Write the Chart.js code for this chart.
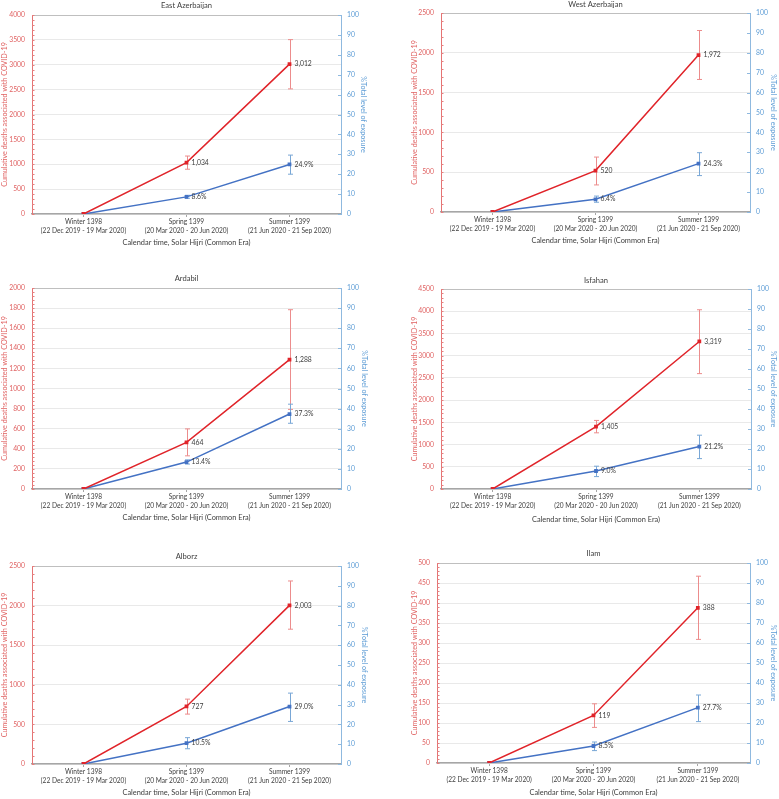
<!DOCTYPE html>
<html lang="en">
<head>
<meta charset="UTF-8">
<title>Cumulative COVID-19 deaths and exposure by province</title>
<script src="https://cdn.jsdelivr.net/npm/chart.js@4.4.1/dist/chart.umd.min.js"></script>
<style>
    body { margin: 0; background: #fff; }
    #charts { position: relative; width: 779px; height: 799px; }
    #charts canvas { position: absolute; }
</style>
</head>
<body>
<div id="charts"></div>
<script>
// values
const periods = [
    ['Winter 1398', '(22 Dec 2019 - 19 Mar 2020)'],
    ['Spring 1399', '(20 Mar 2020 - 20 Jun 2020)'],
    ['Summer 1399', '(21 Jun 2020 - 21 Sep 2020)']
];
const provinces = ['East Azerbaijan', 'West Azerbaijan', 'Ardabil', 'Isfahan', 'Alborz', 'Ilam'];

const deaths = [
    [0, 1034, 3012], [0, 520, 1972], [0, 464, 1288],
    [0, 1405, 3319], [0, 727, 2003], [0, 119, 388]
];
const deathsLow = [
    [null, 900, 2515], [null, 340, 1665], [null, 330, 792],
    [null, 1264, 2596], [null, 630, 1702], [null, 89, 309]
];
const deathsHigh = [
    [null, 1165, 3505], [null, 690, 2280], [null, 598, 1784],
    [null, 1543, 4033], [null, 819, 2311], [null, 148, 467]
];

const exposure = [
    [0, 8.6, 24.9], [0, 6.4, 24.3], [0, 13.4, 37.3],
    [0, 9.0, 21.2], [0, 10.5, 29.0], [0, 8.5, 27.7]
];
const exposureLow = [
    [null, 7.9, 20.0], [null, 4.9, 18.3], [null, 12.4, 32.7],
    [null, 6.2, 15.2], [null, 7.7, 21.5], [null, 6.2, 20.7]
];
const exposureHigh = [
    [null, 9.4, 29.6], [null, 8.0, 29.8], [null, 14.5, 42.2],
    [null, 11.4, 26.9], [null, 13.3, 35.8], [null, 10.5, 34.0]
];

const deathsAxisMax = [4000, 2500, 2000, 4500, 2500, 500];
const deathsAxisStep = [500, 500, 200, 500, 500, 50];
const exposureAxisMax = 100;
const exposureAxisStep = 10;

// where each panel sits on the page
const panels = [
    { x: 0,   y: 0,   w: 390, h: 265, l: 32, r: 341, t: 15, b: 214, titleY: 6,  leftTitleX: 5,  rightTitleX: 363, xTitleY: 243 },
    { x: 390, y: 0,   w: 389, h: 265, l: 51, r: 360, t: 13, b: 212, titleY: 5,  leftTitleX: 25, rightTitleX: 383, xTitleY: 241 },
    { x: 0,   y: 265, w: 390, h: 265, l: 32, r: 341, t: 23, b: 224, titleY: 14, leftTitleX: 5,  rightTitleX: 364, xTitleY: 253 },
    { x: 390, y: 265, w: 389, h: 265, l: 51, r: 361, t: 24, b: 224, titleY: 16, leftTitleX: 25, rightTitleX: 383, xTitleY: 255 },
    { x: 0,   y: 530, w: 390, h: 269, l: 32, r: 341, t: 36, b: 234, titleY: 27, leftTitleX: 5,  rightTitleX: 364, xTitleY: 263 },
    { x: 390, y: 530, w: 389, h: 269, l: 47, r: 360, t: 33, b: 233, titleY: 24, leftTitleX: 25, rightTitleX: 383, xTitleY: 263 }
];

const FONT = 'Lato, "Open Sans", sans-serif';
const RED = '#e0242a';
const BLUE = '#4472c4';
const RED_TEXT = '#e06262';
const BLUE_TEXT = '#5b9bd5';
const TEXT = '#404040';

// error bars, value labels, plot border and the inside tick marks
const extras = {
    id: 'extras',
    beforeDatasetsDraw(chart) {
        const ctx = chart.ctx;
        const area = chart.chartArea;
        ctx.save();
        ctx.strokeStyle = '#bfbfbf';
        ctx.lineWidth = 1;
        ctx.beginPath();
        ctx.moveTo(area.left, area.top + 0.5);
        ctx.lineTo(area.right, area.top + 0.5);
        ctx.stroke();

        chart.data.datasets.forEach((ds, i) => {
            const meta = chart.getDatasetMeta(i);
            const scale = chart.scales[ds.yAxisID];
            ctx.strokeStyle = ds.errorColor;
            ctx.lineWidth = 1;
            meta.data.forEach((pt, j) => {
                if (ds.low[j] == null) return;
                const y1 = scale.getPixelForValue(ds.low[j]);
                const y2 = scale.getPixelForValue(ds.high[j]);
                const x = Math.round(pt.x) + 0.5;
                ctx.beginPath();
                ctx.moveTo(x, y1); ctx.lineTo(x, y2);
                ctx.moveTo(x - 2.5, y1); ctx.lineTo(x + 2.5, y1);
                ctx.moveTo(x - 2.5, y2); ctx.lineTo(x + 2.5, y2);
                ctx.stroke();
            });
        });
        ctx.restore();
    },
    afterDatasetsDraw(chart) {
        const ctx = chart.ctx;
        ctx.save();
        ctx.font = '6.8px ' + FONT;
        ctx.fillStyle = TEXT;
        ctx.textBaseline = 'middle';
        chart.data.datasets.forEach((ds, i) => {
            const meta = chart.getDatasetMeta(i);
            meta.data.forEach((pt, j) => {
                if (!ds.data[j]) return;
                ctx.fillText(ds.fmt(ds.data[j]), pt.x + 5, pt.y);
            });
        });
        ctx.restore();
    },
    afterDraw(chart) {
        const ctx = chart.ctx;
        const area = chart.chartArea;
        const left = chart.scales.y;
        const right = chart.scales.y1;
        const step = left.options.ticks.stepSize;
        ctx.save();
        ctx.lineWidth = 1;
        ctx.strokeStyle = '#e57f7f';
        for (let v = 0; v <= left.max + 1e-6; v += step / 5) {
            const y = Math.round(left.getPixelForValue(v)) + 0.5;
            ctx.beginPath();
            ctx.moveTo(area.left, y);
            ctx.lineTo(area.left + 2.5, y);
            ctx.stroke();
        }
        ctx.strokeStyle = '#8fb9df';
        for (let v = 0; v <= right.max; v += exposureAxisStep) {
            const y = Math.round(right.getPixelForValue(v)) + 0.5;
            ctx.beginPath();
            ctx.moveTo(area.right - 3, y);
            ctx.lineTo(area.right, y);
            ctx.stroke();
        }
        ctx.restore();
    }
};

function makePanel(k) {
    const p = panels[k];
    const canvas = document.createElement('canvas');
    canvas.width = p.w;
    canvas.height = p.h;
    canvas.style.left = p.x + 'px';
    canvas.style.top = p.y + 'px';
    document.getElementById('charts').appendChild(canvas);

    const titleLh = 7.6 * 1.2;
    const axisLh = 7.2 * 1.2;

    new Chart(canvas, {
        type: 'line',
        data: {
            labels: periods,
            datasets: [
                {
                    label: 'Cumulative deaths',
                    data: deaths[k],
                    low: deathsLow[k],
                    high: deathsHigh[k],
                    errorColor: '#ec8c8c',
                    fmt: v => v.toLocaleString('en-US'),
                    yAxisID: 'y',
                    borderColor: RED,
                    backgroundColor: RED,
                    borderWidth: 1.5,
                    pointStyle: 'rect',
                    pointRadius: 1.6,
                    tension: 0
                },
                {
                    label: '%Total level of exposure',
                    data: exposure[k],
                    low: exposureLow[k],
                    high: exposureHigh[k],
                    errorColor: '#79a7d6',
                    fmt: v => v.toFixed(1) + '%',
                    yAxisID: 'y1',
                    borderColor: BLUE,
                    backgroundColor: BLUE,
                    borderWidth: 1.5,
                    pointStyle: 'rect',
                    pointRadius: 1.6,
                    tension: 0
                }
            ]
        },
        options: {
            responsive: false,
            animation: false,
            devicePixelRatio: 1,
            layout: { padding: 0 },
            plugins: {
                legend: { display: false },
                tooltip: { enabled: false },
                title: {
                    display: true,
                    text: provinces[k],
                    fullSize: false,
                    color: TEXT,
                    font: { family: FONT, size: 7.6, weight: 'normal', lineHeight: 1.2 },
                    padding: { top: p.titleY - titleLh / 2, bottom: p.t - (p.titleY - titleLh / 2) - titleLh }
                }
            },
            scales: {
                x: {
                    offset: true,
                    grid: { drawOnChartArea: false, offset: false, tickLength: 3, color: '#a6a6a6' },
                    border: { color: '#a6a6a6', width: 1.5 },
                    ticks: {
                        color: TEXT,
                        padding: 1,
                        maxRotation: 0,
                        autoSkip: false,
                        font: { family: FONT, size: 6.6, lineHeight: 1.27 }
                    },
                    title: {
                        display: true,
                        text: 'Calendar time, Solar Hijri (Common Era)',
                        color: TEXT,
                        font: { family: FONT, size: 7.4, lineHeight: 1.2 },
                        padding: { top: 0, bottom: p.h - p.xTitleY - axisLh / 2 }
                    },
                    afterFit: s => { s.height = p.h - p.b; }
                },
                y: {
                    position: 'left',
                    min: 0,
                    max: deathsAxisMax[k],
                    grid: { color: '#e9e9e9', drawTicks: false },
                    border: { color: '#e57373', width: 1 },
                    ticks: {
                        stepSize: deathsAxisStep[k],
                        color: RED_TEXT,
                        padding: 7,
                        font: { family: FONT, size: 6.8 },
                        callback: v => String(v)
                    },
                    title: {
                        display: true,
                        text: 'Cumulative deaths associated with COVID-19',
                        color: RED_TEXT,
                        font: { family: FONT, size: 7.2, lineHeight: 1.2 },
                        padding: { top: p.leftTitleX - axisLh / 2, bottom: 0 }
                    },
                    afterFit: s => { s.width = p.l; }
                },
                y1: {
                    position: 'right',
                    min: 0,
                    max: exposureAxisMax,
                    grid: { drawOnChartArea: false, drawTicks: false },
                    border: { color: '#8fb9df', width: 1 },
                    ticks: {
                        stepSize: exposureAxisStep,
                        color: BLUE_TEXT,
                        padding: 6,
                        font: { family: FONT, size: 6.8 }
                    },
                    title: {
                        display: true,
                        text: '%Total level of exposure',
                        color: BLUE_TEXT,
                        font: { family: FONT, size: 7.2, lineHeight: 1.2 },
                        padding: { top: p.w - p.rightTitleX - axisLh / 2, bottom: 0 }
                    },
                    afterFit: s => { s.width = p.w - p.r; }
                }
            }
        },
        plugins: [extras]
    });
}

document.addEventListener('DOMContentLoaded', () => {
    provinces.forEach((name, k) => makePanel(k));
});
</script>
</body>
</html>
